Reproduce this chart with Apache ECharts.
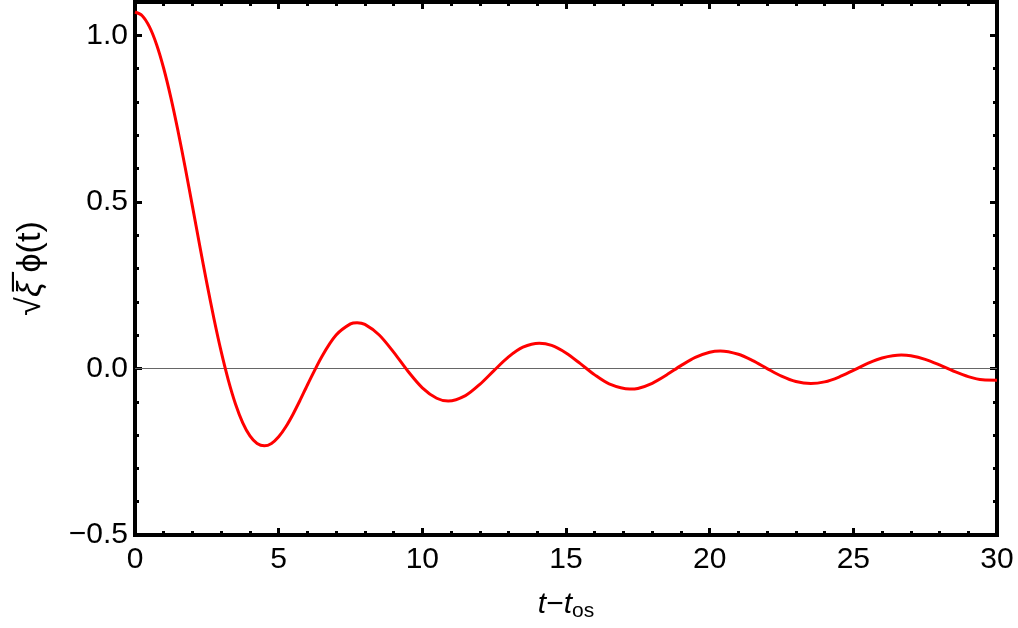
<!DOCTYPE html>
<html>
<head>
<meta charset="utf-8">
<script src="https://cdn.jsdelivr.net/npm/echarts@6/dist/echarts.min.js"></script>
<style>
html,body{margin:0;padding:0;background:#fff;}
#chart{width:1018px;height:628px;}
</style>
</head>
<body>
<div id="chart"></div>
<script>
const tValues = [0,0.25,0.5,0.75,1,1.25,1.5,1.75,2,2.25,2.5,2.75,3,3.25,3.5,3.75,4,4.25,4.5,4.75,5,5.25,5.5,5.75,6,6.5,7,7.5,7.73,8,8.5,9,9.5,10,10.5,10.9,11.5,12,12.5,13,13.5,14.07,14.5,15,15.5,16,16.5,17.22,17.5,18,18.5,19,19.5,20,20.37,21,21.5,22,22.5,23,23.52,24,24.5,25,25.5,26,26.67,27,27.5,28,28.5,29,29.5,30];
const phiValues = [1.07,1.0589,1.026,0.9725,0.9004,0.8123,0.7115,0.6016,0.4865,0.37,0.2561,0.1485,0.0503,-0.0356,-0.1072,-0.1631,-0.2024,-0.2253,-0.2324,-0.2251,-0.2052,-0.1751,-0.1373,-0.0946,-0.0498,0.0354,0.1004,0.1338,0.1374,0.1323,0.1005,0.049,-0.0085,-0.0582,-0.0896,-0.0977,-0.0815,-0.0478,-0.0057,0.0346,0.0637,0.0759,0.069,0.0464,0.0143,-0.0193,-0.0462,-0.062,-0.06,-0.0446,-0.0196,0.0084,0.0332,0.0488,0.0525,0.0426,0.0234,-0.0004,-0.0232,-0.0394,-0.0455,-0.0404,-0.0258,-0.0057,0.015,0.0314,0.0401,0.0379,0.0272,0.0104,-0.0084,-0.0245,-0.0342,-0.0352];
const xTicks = [0,5,10,15,20,25,30];
const yTicks = [-0.5,0,0.5,1.0];

const FONT = 'Liberation Sans, Arial, Helvetica, sans-serif';
const chart = echarts.init(document.getElementById('chart'));

function yFmt(v){
  if (!yTicks.some(t => Math.abs(t - v) < 1e-9)) return '';
  return (v < 0 ? '\u2212' : '') + Math.abs(v).toFixed(1);
}
function xFmt(v){
  return xTicks.indexOf(Math.round(v)) >= 0 ? String(Math.round(v)) : '';
}

const tickStyle = {color:'#000', width:3};
function xAxisDef(pos, withLabels){
  return {
    type:'value', position:pos, min:0, max:30, interval:5,
    axisLine:{show:false, onZero:false},
    axisTick:{show:true, inside:true, length:7, lineStyle:tickStyle},
    minorTick:{show:true, splitNumber:5, length:4, lineStyle:tickStyle},
    splitLine:{show:false}, minorSplitLine:{show:false},
    axisLabel:{show:withLabels, formatter:xFmt, fontSize:30, color:'#000', fontFamily:FONT, margin:10},
    name: withLabels ? '{i|t}\u2212{i|t}{s|os}' : '',
    nameLocation:'middle', nameGap:52,
    nameTextStyle:{fontFamily:FONT, fontSize:30, color:'#000',
      rich:{ i:{fontStyle:'italic', fontSize:30, fontFamily:FONT, color:'#000'},
             s:{fontSize:21, fontFamily:FONT, color:'#000', padding:[14,0,0,0]} }}
  };
}
function yAxisDef(pos, major, withLabels){
  return {
    type:'value', position:pos, min:-0.5, max:1.1, interval: major ? 0.5 : 0.1,
    axisLine:{show:false, onZero:false},
    axisTick:{show:true, inside:true, length: major ? 7 : 4, lineStyle:tickStyle},
    splitLine:{show:false},
    axisLabel:{show:withLabels, formatter:yFmt, showMaxLabel:false, fontSize:30, color:'#000', fontFamily:FONT, margin:7},
    name: withLabels ? '\u221A{x|\u03BE\u0305} \u03D5(t)' : '',
    nameLocation:'middle', nameRotate:90, nameGap:87,
    nameTextStyle:{fontFamily:FONT, fontSize:34, color:'#000',
      rich:{ x:{fontStyle:'italic', fontSize:34, fontFamily:FONT, color:'#000'} }}
  };
}

chart.setOption({
  animation:false,
  backgroundColor:'#fff',
  grid:{left:135, right:21, top:2, bottom:93, show:true, borderColor:'#000', borderWidth:4, backgroundColor:'transparent'},
  xAxis:[ xAxisDef('bottom', true), xAxisDef('top', false) ],
  yAxis:[ yAxisDef('left', true, true), yAxisDef('left', false, false), yAxisDef('right', true, false), yAxisDef('right', false, false) ],
  series:[{
    type:'line',
    xAxisIndex:0, yAxisIndex:0,
    data: tValues.map((t,i)=>[t, phiValues[i]]),
    showSymbol:false, smooth:0.3,
    lineStyle:{color:'#ff0000', width:3},
    itemStyle:{color:'#ff0000'},
    markLine:{
      silent:true, symbol:['none','none'], label:{show:false},
      lineStyle:{color:'#666', width:1, type:'solid'},
      data:[{yAxis:0}], z:1
    },
    z:3
  }]
});
</script>
</body>
</html>
